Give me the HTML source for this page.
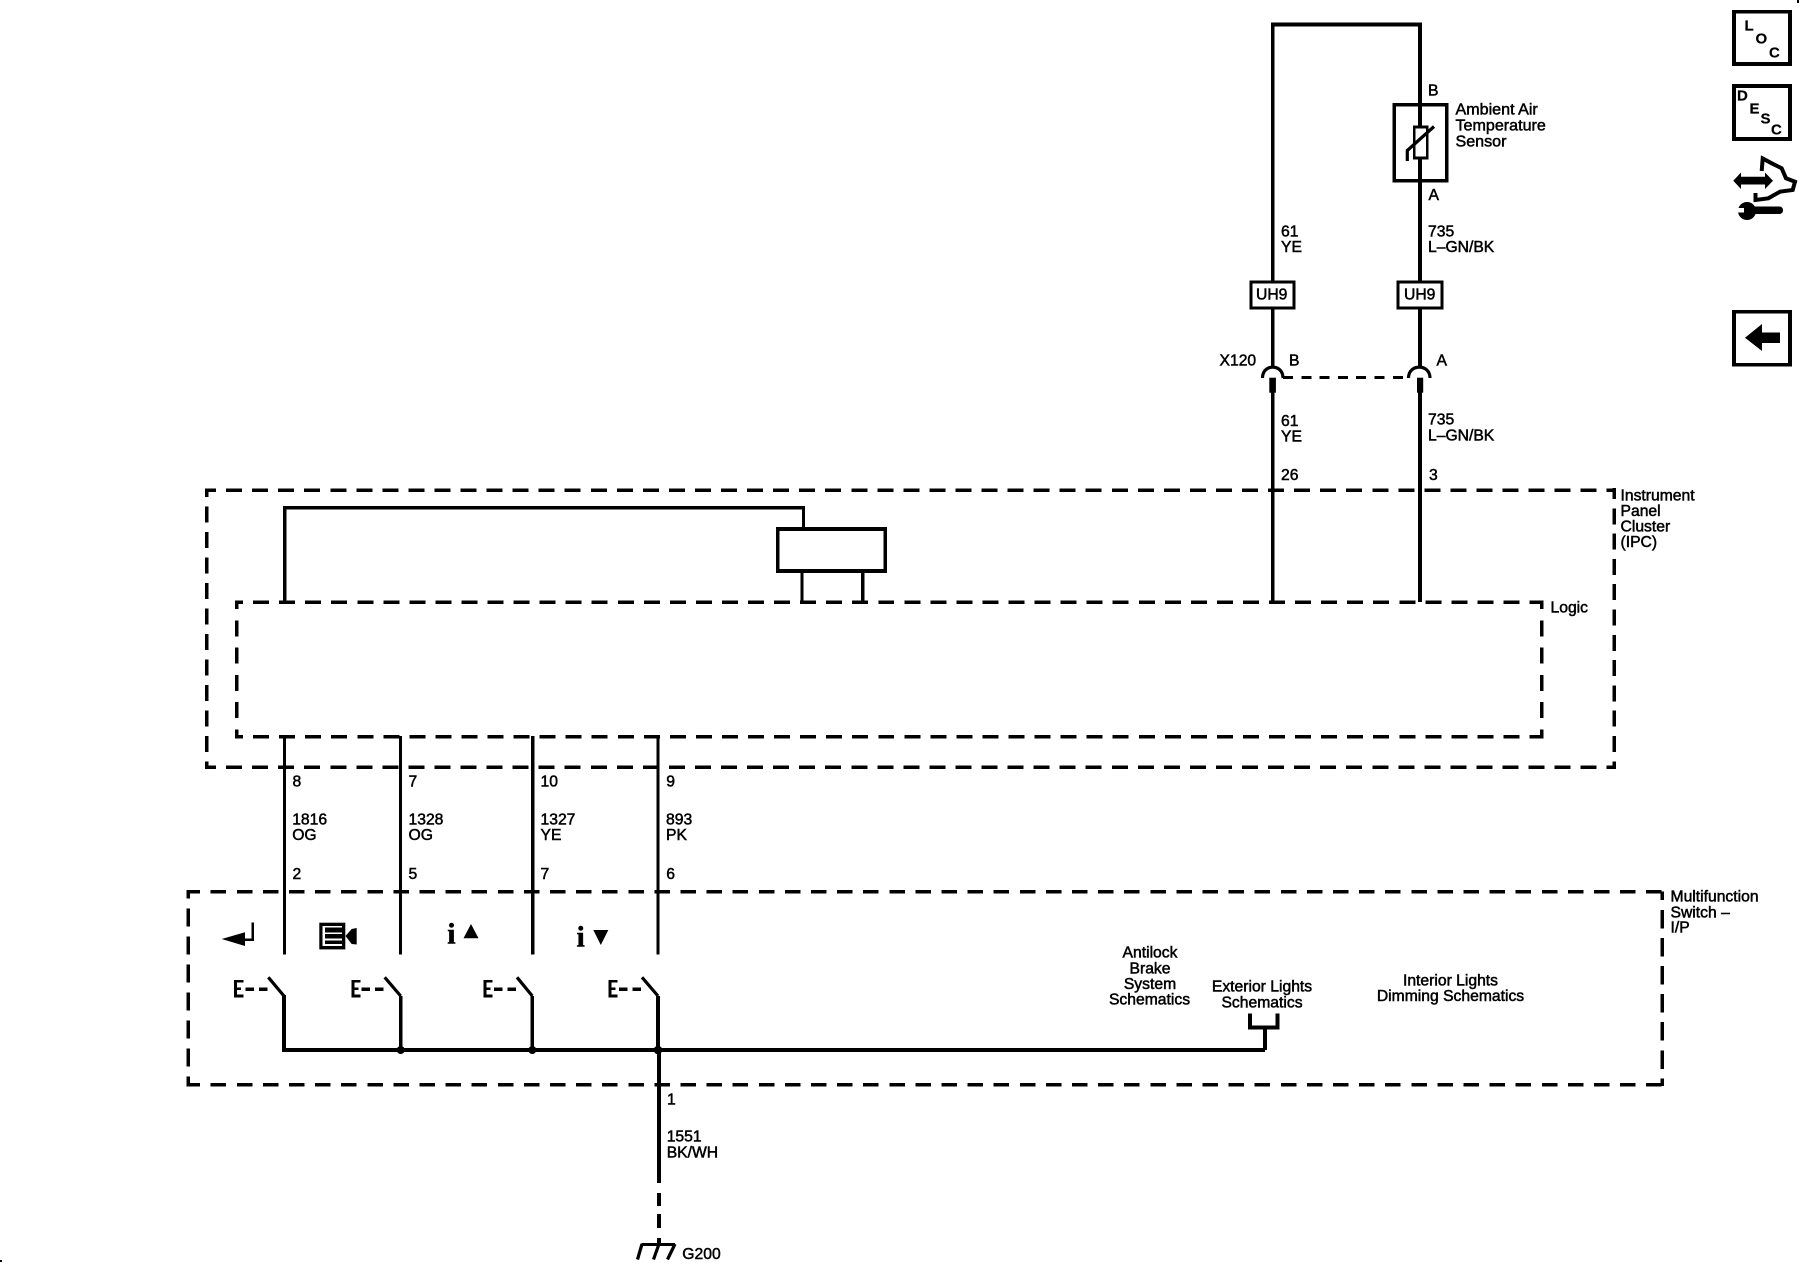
<!DOCTYPE html>
<html>
<head>
<meta charset="utf-8">
<style>
html,body{margin:0;padding:0;background:#fff;width:1800px;height:1280px;overflow:hidden}
svg{display:block}
text{font-family:"Liberation Sans",sans-serif;font-size:15.7px;fill:#000;stroke:#000;stroke-width:.5px}
.m{text-anchor:middle}
.w{fill:none;stroke:#000;stroke-width:3.8;shape-rendering:crispEdges}
.d{fill:none;stroke:#000;stroke-width:3.5;shape-rendering:crispEdges}
.s{fill:none;stroke:#000;stroke-width:3.2}
.f{fill:#000;stroke:none}
.ic{font-size:15px;font-weight:bold;stroke-width:.2px}
</style>
</head>
<body>
<svg width="1800" height="1280" viewBox="0 0 1800 1280" xmlns="http://www.w3.org/2000/svg">
<rect width="1800" height="1280" fill="#fff"/>

<!-- IPC dashed box -->
<line class="d" x1="205" y1="490" x2="1616" y2="490" stroke-dasharray="16 10.05" stroke-dashoffset="5"/>
<line class="d" x1="205" y1="767.3" x2="1616" y2="767.3" stroke-dasharray="16 10.05" stroke-dashoffset="5"/>
<line class="d" x1="206.6" y1="490" x2="206.6" y2="769" stroke-dasharray="16 9.5" stroke-dashoffset="8.8"/>
<line class="d" x1="1614.3" y1="488" x2="1614.3" y2="769" stroke-dasharray="16 9.3" stroke-dashoffset="5"/>

<!-- Logic dashed box -->
<line class="d" x1="235" y1="602" x2="1543.5" y2="602" stroke-dasharray="16 10.05" stroke-dashoffset="8"/>
<line class="d" x1="235" y1="736.7" x2="1543.5" y2="736.7" stroke-dasharray="16 10.05" stroke-dashoffset="8"/>
<line class="d" x1="236.5" y1="602" x2="236.5" y2="738.5" stroke-dasharray="16 11.3" stroke-dashoffset="9"/>
<line class="d" x1="1541.7" y1="602" x2="1541.7" y2="738.5" stroke-dasharray="16 11.3" stroke-dashoffset="9"/>

<!-- Multifunction dashed box -->
<line class="d" x1="186.5" y1="891.7" x2="1663.5" y2="891.7" stroke-dasharray="15.5 10.6" stroke-dashoffset="1.9"/>
<line class="d" x1="186.5" y1="1084.7" x2="1663.5" y2="1084.7" stroke-dasharray="15.5 10.6" stroke-dashoffset="1.9"/>
<line class="d" x1="188" y1="891.7" x2="188" y2="1086" stroke-dasharray="18 10" stroke-dashoffset="11.4" stroke-width="3"/>
<line class="d" x1="1662" y1="891.7" x2="1662" y2="1086" stroke-dasharray="18.5 9.6" stroke-dashoffset="10" stroke-width="3"/>

<!-- Top wires -->
<path class="w" d="M1272.7 367V24.5H1420V367"/>
<path class="w" d="M1272.7 392V602M1420 392V602"/>

<!-- Sensor -->
<rect x="1394" y="104.5" width="52.5" height="76" fill="none" stroke="#000" stroke-width="3.5" shape-rendering="crispEdges"/>
<rect x="1414.2" y="127" width="13" height="31" fill="#fff" stroke="#000" stroke-width="2.6" shape-rendering="crispEdges"/>
<path class="w" d="M1420 103V127M1420 158V183"/>
<path class="s" d="M1407.3 161V150.5L1434 126.5" stroke-width="2.8"/>

<!-- UH9 boxes -->
<rect x="1251.2" y="282.2" width="43" height="25.6" fill="#fff" stroke="#000" stroke-width="3" shape-rendering="crispEdges"/>
<rect x="1398.2" y="282.2" width="43.7" height="25.6" fill="#fff" stroke="#000" stroke-width="3" shape-rendering="crispEdges"/>
<text x="1256" y="299.5">UH9</text>
<text x="1404" y="299.5">UH9</text>

<!-- X120 connector -->
<path class="s" d="M1262.5 378C1262.5 363.5 1283 363.5 1283 378"/>
<path class="s" d="M1408.5 378C1408.5 363.5 1430 363.5 1430 378"/>
<rect class="f" x="1269.3" y="377.7" width="6.6" height="15"/>
<rect class="f" x="1417" y="377.7" width="6.2" height="15"/>
<line x1="1283" y1="377.5" x2="1408" y2="377.5" stroke="#000" stroke-width="2.8" stroke-dasharray="10 8.3" shape-rendering="crispEdges"/>

<!-- Relay-like block -->
<path class="w" d="M284.7 602V507.7H803.5V528" style="stroke-width:3.2"/>
<rect x="777.7" y="529" width="107.6" height="42" fill="#fff" stroke="#000" stroke-width="3.6" shape-rendering="crispEdges"/>
<path class="w" d="M802 572V602M862.7 572V602" style="stroke-width:3.2"/>

<!-- Wires logic to switch -->
<path class="w" d="M284.4 736V954.3M400.4 736V954.3M532.7 736V954.3M658 736V954.3" style="stroke-width:3.2"/>

<!-- Switches -->
<g>
<path class="s" d="M268.3 977.3L284 996"/>
<path class="w" d="M284 995V1050H1265M400.7 996V1050M532.3 996V1050M658 996V1050" style="stroke-width:3.8"/>
<path class="s" d="M384.7 977.3L400.7 996"/>
<path class="s" d="M517 977.3L532.3 996"/>
<path class="s" d="M642 977.3L658 996"/>
</g>
<line class="d" x1="245.7" y1="989" x2="268" y2="989" stroke-width="3" stroke-dasharray="8.5 5"/>
<line class="d" x1="361.7" y1="989" x2="384" y2="989" stroke-width="3" stroke-dasharray="8.5 5"/>
<line class="d" x1="494" y1="989" x2="516.3" y2="989" stroke-width="3" stroke-dasharray="8.5 5"/>
<line class="d" x1="619" y1="989" x2="641.3" y2="989" stroke-width="3" stroke-dasharray="8.5 5"/>
<g stroke="#000" fill="none" shape-rendering="crispEdges">
<path stroke-width="3.2" d="M235.6 980V997.3"/><path stroke-width="2.6" d="M234 981.3H243.3M234 988.7H241M234 996H243.3"/>
<path stroke-width="3.2" d="M352.9 980V997.3"/><path stroke-width="2.6" d="M351.3 981.3H360.6M351.3 988.7H358.3M351.3 996H360.6"/>
<path stroke-width="3.2" d="M484.9 980V997.3"/><path stroke-width="2.6" d="M483.3 981.3H492.6M483.3 988.7H490.3M483.3 996H492.6"/>
<path stroke-width="3.2" d="M609.9 980V997.3"/><path stroke-width="2.6" d="M608.3 981.3H617.6M608.3 988.7H615.3M608.3 996H617.6"/>
</g>
<circle class="f" cx="400.7" cy="1050" r="4"/>
<circle class="f" cx="532.3" cy="1050" r="4"/>
<circle class="f" cx="658" cy="1050" r="4.3"/>

<!-- Exterior bracket -->
<path class="w" d="M1265 1050V1028.3M1250.2 1013.3V1027.5H1277.5V1013.3" style="stroke-width:4"/>

<!-- Down to ground -->
<path class="w" d="M659 1050V1183" style="stroke-width:4"/>
<path class="w" d="M659 1193V1206M659 1214V1228M659 1238V1244" style="stroke-width:4"/>
<path class="w" d="M641.7 1244.3H675" style="stroke-width:3"/>
<path class="s" d="M642 1244L637.5 1259.5M659 1244L653.5 1259.5M675 1244L667.5 1259.5"/>

<!-- Icons in switch -->
<polygon class="f" points="221.7,939 245,932.3 245,946"/>
<path d="M252.5 922.7V939.5H244" fill="none" stroke="#000" stroke-width="2.5" shape-rendering="crispEdges"/>

<rect class="f" x="319.3" y="922.7" width="26" height="26.7"/>
<rect x="322.5" y="926" width="19.5" height="20" fill="#fff"/>
<rect class="f" x="325" y="927.5" width="17" height="5"/>
<rect class="f" x="325" y="934" width="17" height="4.5"/>
<rect class="f" x="325" y="940.5" width="17" height="3.5"/>
<polygon class="f" points="345.5,936 351.7,929 356.7,928 356.7,944.5 351.7,944"/>

<text x="447.3" y="943.3" style="font-family:'Liberation Serif',serif;font-weight:bold;font-size:30px;stroke-width:.5px">i</text>
<polygon class="f" points="471,924 478.5,938.3 463.5,938.3"/>
<text x="576.5" y="946.7" style="font-family:'Liberation Serif',serif;font-weight:bold;font-size:30px;stroke-width:.5px">i</text>
<polygon class="f" points="593.3,930 608.3,930 600.8,945"/>

<!-- Top labels -->
<text x="1428" y="95.5">B</text>
<text x="1428.5" y="200">A</text>
<text x="1455.5" y="114.5" style="font-size:16.1px">Ambient Air</text>
<text x="1455.5" y="130.5" style="font-size:16.1px">Temperature</text>
<text x="1455.5" y="146.5" style="font-size:16.1px">Sensor</text>
<text x="1281" y="236.5">61</text>
<text x="1281" y="252">YE</text>
<text x="1428" y="236.5">735</text>
<text x="1428" y="252">L–GN/BK</text>
<text x="1219.5" y="365.5">X120</text>
<text x="1289" y="365.5">B</text>
<text x="1436.5" y="365.5">A</text>
<text x="1281" y="426">61</text>
<text x="1281" y="441.5">YE</text>
<text x="1428" y="424.5">735</text>
<text x="1428" y="440.5">L–GN/BK</text>
<text x="1281" y="480">26</text>
<text x="1429" y="480">3</text>

<text x="1620.5" y="500.3">Instrument</text>
<text x="1620.5" y="516">Panel</text>
<text x="1620.5" y="531.7">Cluster</text>
<text x="1620.5" y="547">(IPC)</text>
<text x="1550.5" y="612.3">Logic</text>

<!-- Wire labels -->
<text x="292.5" y="786.7">8</text>
<text x="408.5" y="786.7">7</text>
<text x="540.5" y="786.7">10</text>
<text x="666.2" y="786.7">9</text>
<text x="292.2" y="824.3">1816</text>
<text x="292.2" y="840">OG</text>
<text x="408.5" y="824.3">1328</text>
<text x="408.5" y="840">OG</text>
<text x="540.5" y="824.3">1327</text>
<text x="540.5" y="840">YE</text>
<text x="666" y="824.3">893</text>
<text x="666" y="840">PK</text>
<text x="292.5" y="879">2</text>
<text x="408.5" y="879">5</text>
<text x="540.5" y="879">7</text>
<text x="666.2" y="879">6</text>

<text x="667" y="1104.3">1</text>
<text x="666.7" y="1141.5">1551</text>
<text x="666.7" y="1157.3">BK/WH</text>
<text x="682.3" y="1259">G200</text>

<!-- Mid labels -->
<text class="m" x="1150" y="957.7">Antilock</text>
<text class="m" x="1150" y="973.3">Brake</text>
<text class="m" x="1150" y="988.8">System</text>
<text class="m" x="1149.5" y="1004.3">Schematics</text>
<text class="m" x="1262" y="991.7">Exterior Lights</text>
<text class="m" x="1262" y="1007.3">Schematics</text>
<text class="m" x="1450.5" y="985.3">Interior Lights</text>
<text class="m" x="1450.5" y="1001">Dimming Schematics</text>
<text x="1670.5" y="901.7">Multifunction</text>
<text x="1670.5" y="917.3">Switch –</text>
<text x="1670.5" y="932.7">I/P</text>

<!-- Right icons -->
<rect x="1734" y="11.7" width="56" height="52.3" fill="none" stroke="#000" stroke-width="3.6" shape-rendering="crispEdges"/>
<text class="ic" x="1744.5" y="30.7">L</text>
<text class="ic" x="1755.5" y="43.3">O</text>
<text class="ic" x="1769" y="57.3">C</text>

<rect x="1734" y="86" width="56" height="53" fill="none" stroke="#000" stroke-width="3.6" shape-rendering="crispEdges"/>
<text class="ic" x="1737" y="100.7">D</text>
<text class="ic" x="1749.5" y="113.3">E</text>
<text class="ic" x="1760.5" y="123.3">S</text>
<text class="ic" x="1771" y="134.3">C</text>

<polygon class="f" points="1733.3,180.7 1741,172.5 1741,176.7 1765,176.7 1765,172.5 1773,180.7 1765,189 1765,184.5 1741,184.5 1741,189"/>
<path class="s" style="stroke-width:4" d="M1761.7 171L1762.7 158.5L1771.7 163.3L1781.7 168.3L1786 178.3L1795 181.7L1792.7 190L1780 191.7L1768.3 198.3L1755.5 200L1755.5 193"/>
<rect class="f" x="1750" y="206.5" width="33" height="7.5" rx="3.5"/>
<circle class="f" cx="1747" cy="211" r="9"/>
<rect x="1738" y="208" width="6" height="4.5" fill="#fff"/>

<rect x="1734" y="311.7" width="56" height="53" fill="none" stroke="#000" stroke-width="3.6" shape-rendering="crispEdges"/>
<polygon class="f" points="1745,337.7 1762,324 1762,332.5 1780,332.5 1780,343 1762,343 1762,351"/>

<!-- Specks -->
<rect class="f" x="1797" y="0" width="2" height="3"/>
<rect class="f" x="0" y="1260" width="2" height="2"/>
</svg>
</body>
</html>
